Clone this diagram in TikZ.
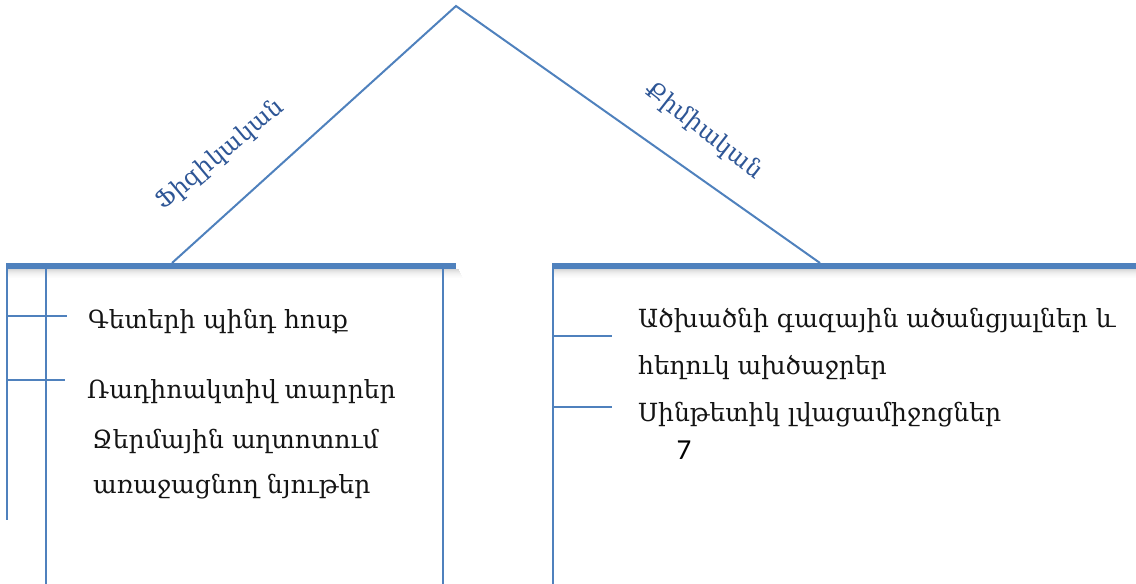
\documentclass[tikz,border=0pt]{standalone}
\usepackage{fontspec}
\newfontfamily\arm{DejaVu Serif}
\newfontfamily\numfont{Carlito}
\definecolor{lineblue}{RGB}{79,129,189}
\definecolor{labelblue}{RGB}{46,86,150}
\definecolor{txt}{RGB}{20,20,20}
\begin{document}
\begin{tikzpicture}[x=1pt,y=-1pt,
  roof/.style={draw=lineblue,line width=2pt},
  bar/.style={draw=lineblue,line width=6pt},
  post/.style={draw=lineblue,line width=2pt},
  tick/.style={draw=lineblue,line width=1.5pt},
  item/.style={anchor=base west,inner sep=0pt,text=txt,font=\arm\fontsize{25}{30}\selectfont},
  side/.style={inner sep=0pt,text=labelblue,font=\arm\fontsize{24}{28}\selectfont}]
\useasboundingbox (0,0) rectangle (1136,584);
% roof
\coordinate (apex) at (456,6);
\coordinate (lfoot) at (172,263);
\coordinate (rfoot) at (820,263);
\draw[roof] (lfoot) -- (apex) -- (rfoot);
% shadows
\foreach \i/\o in {1/0.16,2/0.13,3/0.10,4/0.08,5/0.06,6/0.045,7/0.03,8/0.02,9/0.01}{
  \fill[black,opacity=\o] (6+\i*0.3,268+\i) rectangle (458+\i*0.5,269+\i);
  \fill[black,opacity=\o] (552+\i*0.3,268+\i) rectangle (1136,269+\i);
}
% bars
\coordinate (lbarL) at (6,265.5);
\coordinate (lbarR) at (456,265.5);
\coordinate (rbarL) at (552,265.5);
\coordinate (rbarR) at (1136,265.5);
\draw[bar] (lbarL) -- (lbarR);
\draw[bar] (rbarL) -- (rbarR);
% posts
\coordinate (p1t) at (7,263); \coordinate (p1b) at (7,520);
\coordinate (p2t) at (45.5,268); \coordinate (p2b) at (45.5,584);
\coordinate (p3t) at (442.5,268); \coordinate (p3b) at (442.5,584);
\coordinate (p4t) at (553,263); \coordinate (p4b) at (553,584);
\draw[post] (p1t) -- (p1b);
\draw[post] (p2t) -- (p2b);
\draw[post] (p3t) -- (p3b);
\draw[post] (p4t) -- (p4b);
% ticks
\coordinate (t1a) at (8,316); \coordinate (t1b) at (67,316);
\coordinate (t2a) at (6,380); \coordinate (t2b) at (65,380);
\coordinate (t3a) at (552,336); \coordinate (t3b) at (612,336);
\coordinate (t4a) at (552,407); \coordinate (t4b) at (612,407);
\draw[tick] (t1a) -- (t1b);
\draw[tick] (t2a) -- (t2b);
\draw[tick] (t3a) -- (t3b);
\draw[tick] (t4a) -- (t4b);
% texts
\node[item] (a1) at (88,328) {Գետերի պինդ հոսք};
\node[item] (a2) at (87,398) {Ռադիոակտիվ տարրեր};
\node[item] (a3) at (92,448) {Ջերմային աղտոտում};
\node[item] (a4) at (93,493) {առաջացնող նյութեր};
\node[item] (b1) at (638,327) {Ածխածնի գազային ածանցյալներ և};
\node[item] (b2) at (638,374) {հեղուկ ախծաջրեր};
\node[item] (b3) at (638,421) {Սինթետիկ լվացամիջոցներ};
\node[inner sep=0pt,text=black,font=\numfont\fontsize{29}{32}\selectfont] (n7) at (684,450) {7};
\node[side,rotate=40] (lab1) at (220,155) {Ֆիզիկական};
\node[side,rotate=-38] (lab2) at (704,131) {Քիմիական};
\end{tikzpicture}
\end{document}
